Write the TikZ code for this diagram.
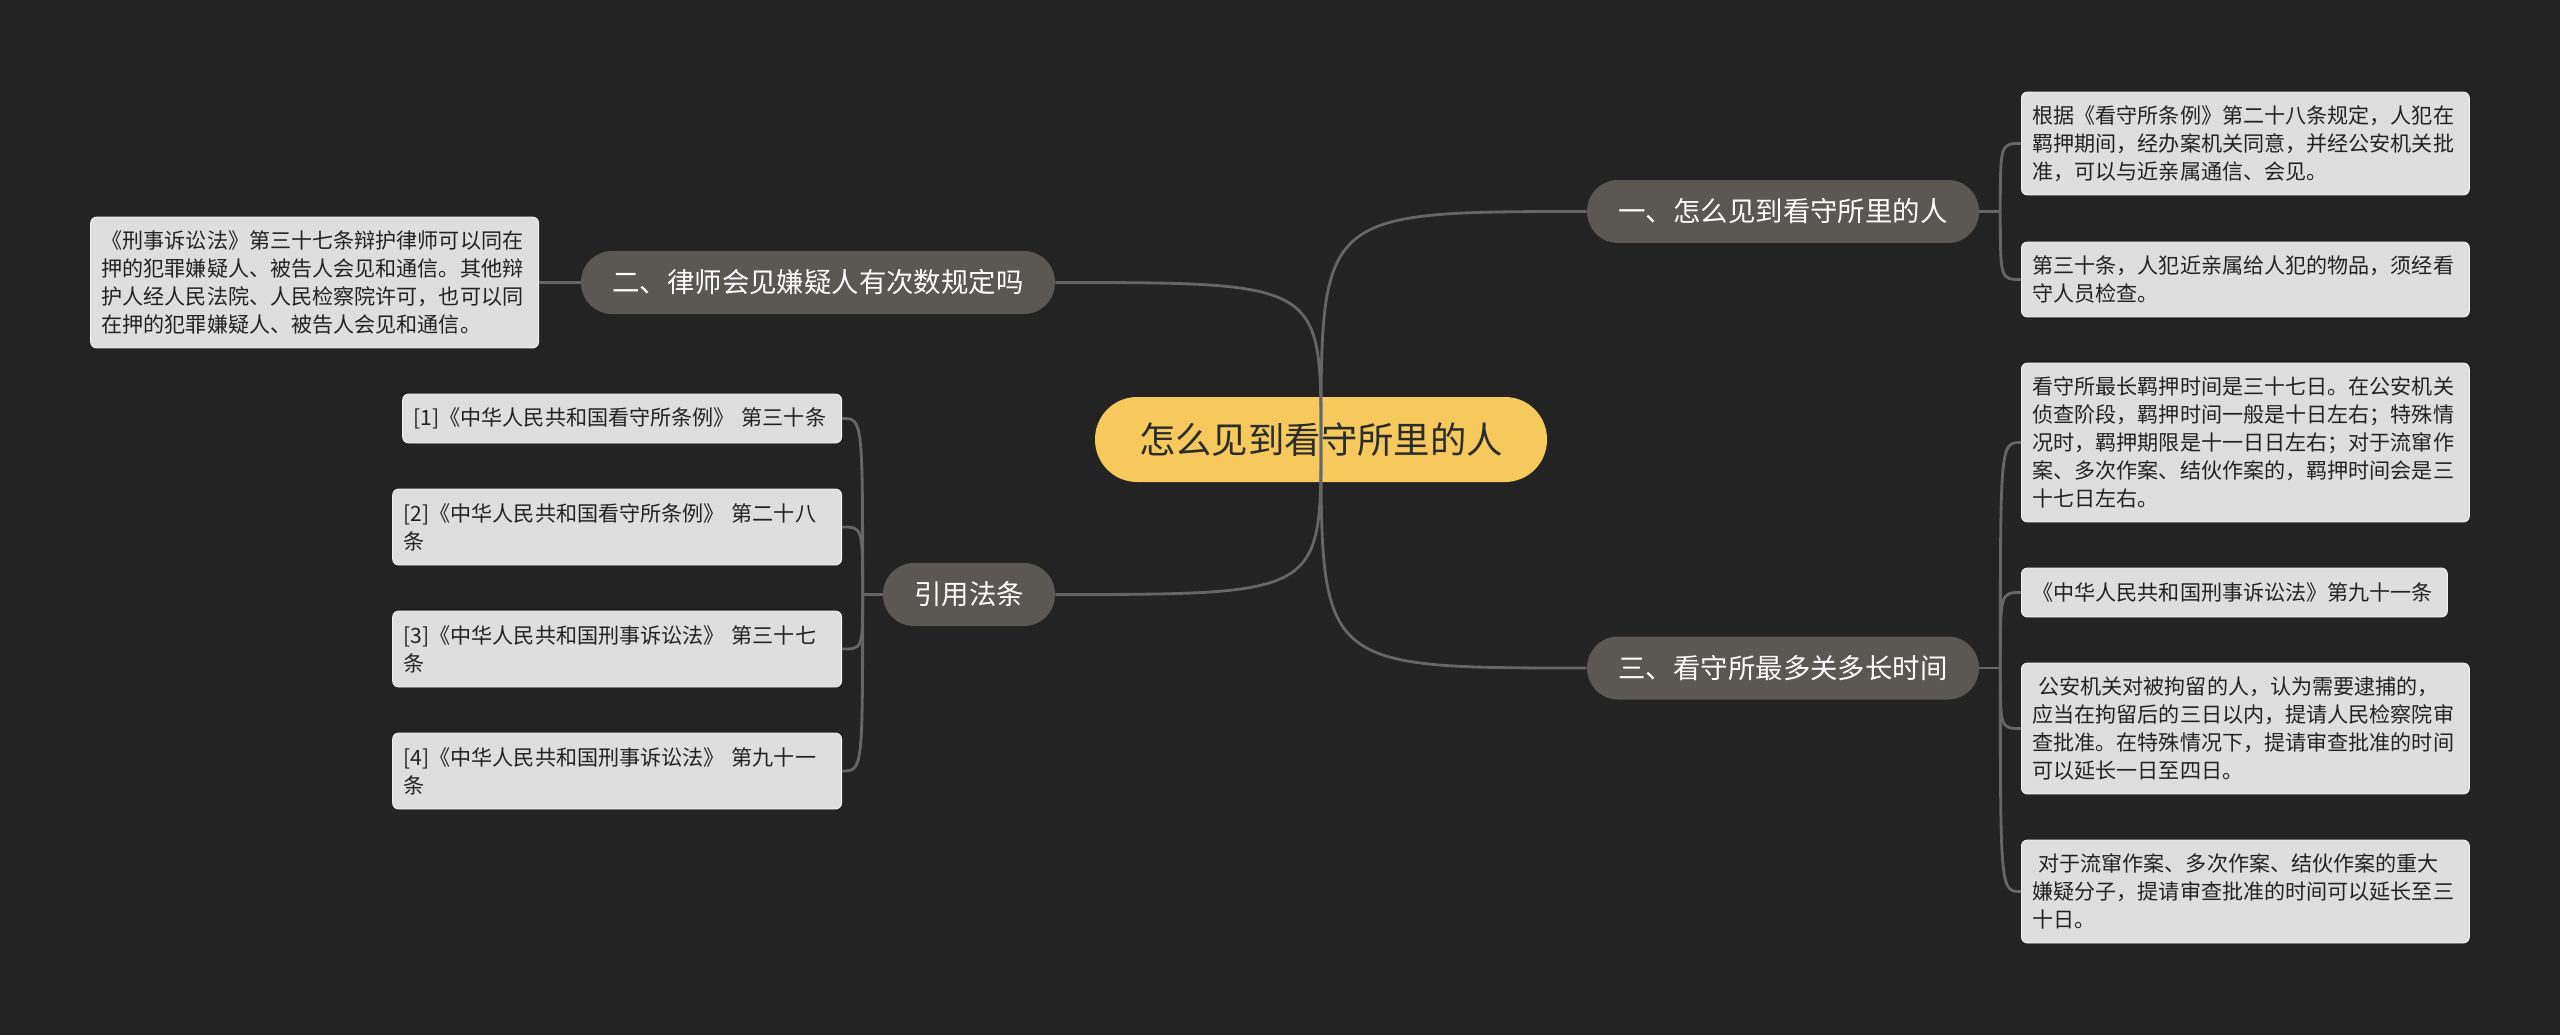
\documentclass[tikz,border=0pt]{standalone}
\usepackage{fontspec}
\setmainfont{Noto Sans CJK SC}
\definecolor{bgcol}{HTML}{232323}
\definecolor{rootfill}{HTML}{F5C95C}
\definecolor{roottext}{HTML}{2B2B2B}
\definecolor{topicfill}{HTML}{5B5753}
\definecolor{leaffill}{HTML}{DEDEDE}
\definecolor{leafedge}{HTML}{F2F2F2}
\definecolor{leaftext}{HTML}{222222}
\definecolor{linecol}{HTML}{666666}

\begin{document}
\begin{tikzpicture}[x=0.02cm,y=-0.02cm,
  root/.style={fill=rootfill,text=roottext,rounded corners=0.84cm,minimum width=9.04cm,minimum height=1.7cm,font=\fontsize{20.7}{24}\selectfont},
  topic/.style={fill=topicfill,text=white,rounded corners=0.62cm,minimum height=1.26cm,font=\fontsize{15.6}{18}\selectfont},
  leaf/.style={fill=leaffill,draw=leafedge,line width=0.5pt,text=leaftext,rounded corners=0.12cm,align=left,inner xsep=0.22cm,inner ysep=0pt,font=\fontsize{12}{15.9}\selectfont},
  link/.style={draw=linecol,line width=1.6pt}]
  \fill[bgcol] (0,0) rectangle (2560,1035); %Draw background
  % centre and first level
  \node[root] (root) at (1321,439.5) {怎么见到看守所里的人};
  \node[topic,minimum width=7.84cm] (q1) at (1783,211.5) {一、怎么见到看守所里的人};
  \node[topic,minimum width=9.48cm] (q2) at (818,282.5) {二、律师会见嫌疑人有次数规定吗};
  \node[topic,minimum width=7.84cm] (q3) at (1783,668) {三、看守所最多关多长时间};
  \node[topic,minimum width=3.44cm] (refs) at (969,594.5) {引用法条};
  % leaves of q1
  \node[leaf,anchor=west,text width=8.52cm,minimum height=2.06cm] (q1a) at (2021,143.5)
    {根据《看守所条例》第二十八条规定，人犯在\\羁押期间，经办案机关同意，并经公安机关批\\准，可以与近亲属通信、会见。};
  \node[leaf,anchor=west,text width=8.52cm,minimum height=1.5cm] (q1b) at (2021,279.5)
    {第三十条，人犯近亲属给人犯的物品，须经看\\守人员检查。};
  % leaf of q2
  \node[leaf,anchor=east,text width=8.52cm,minimum height=2.62cm] (q2a) at (539,282.5)
    {《刑事诉讼法》第三十七条辩护律师可以同在\\押的犯罪嫌疑人、被告人会见和通信。其他辩\\护人经人民法院、人民检察院许可，也可以同\\在押的犯罪嫌疑人、被告人会见和通信。};
  % leaves of q3
  \node[leaf,anchor=west,text width=8.52cm,minimum height=3.18cm] (q3a) at (2021,442.5)
    {看守所最长羁押时间是三十七日。在公安机关\\侦查阶段，羁押时间一般是十日左右；特殊情\\况时，羁押期限是十一日日左右；对于流窜作\\案、多次作案、结伙作案的，羁押时间会是三\\十七日左右。};
  \node[leaf,anchor=west,text width=8.08cm,minimum height=0.98cm] (q3b) at (2021,592.5)
    {《中华人民共和国刑事诉讼法》第九十一条};
  \node[leaf,anchor=west,text width=8.52cm,minimum height=2.62cm] (q3c) at (2021,728.5)
    {\hspace*{0.28em}公安机关对被拘留的人，认为需要逮捕的，\\应当在拘留后的三日以内，提请人民检察院审\\查批准。在特殊情况下，提请审查批准的时间\\可以延长一日至四日。};
  \node[leaf,anchor=west,text width=8.52cm,minimum height=2.06cm] (q3d) at (2021,891.5)
    {\hspace*{0.28em}对于流窜作案、多次作案、结伙作案的重大\\嫌疑分子，提请审查批准的时间可以延长至三\\十日。};
  % leaves of refs
  \node[leaf,anchor=east,text width=8.34cm,minimum height=0.98cm] (ref1) at (842,418.5)
    {[1]《中华人民共和国看守所条例》 第三十条};
  \node[leaf,anchor=east,text width=8.54cm,minimum height=1.52cm] (ref2) at (842,527)
    {[2]《中华人民共和国看守所条例》 第二十八\\条};
  \node[leaf,anchor=east,text width=8.54cm,minimum height=1.52cm] (ref3) at (842,649)
    {[3]《中华人民共和国刑事诉讼法》 第三十七\\条};
  \node[leaf,anchor=east,text width=8.54cm,minimum height=1.52cm] (ref4) at (842,771)
    {[4]《中华人民共和国刑事诉讼法》 第九十一\\条};
  % connectors from the centre
  \draw[link] (root.center) .. controls (root.center |- q1.west) and (root.center |- q1.west) .. (q1.west);
  \draw[link] (root.center) .. controls (root.center |- q2.east) and (root.center |- q2.east) .. (q2.east);
  \draw[link] (root.center) .. controls (root.center |- q3.west) and (root.center |- q3.west) .. (q3.west);
  \draw[link] (root.center) .. controls (root.center |- refs.east) and (root.center |- refs.east) .. (refs.east);
  % connectors to the leaves
  \coordinate (q1s) at ([xshift=0.42cm]q1.east);
  \coordinate (q3s) at ([xshift=0.42cm]q3.east);
  \coordinate (refss) at ([xshift=-0.4cm]refs.west);
  \draw[link] (q1.east) -- (q1s);
  \draw[link] (q3.east) -- (q3s);
  \draw[link] (refs.west) -- (refss);
  \draw[link] (q2.west) -- (q2a.east);
  \foreach \leafname in {q1a,q1b}
    \draw[link] (q1s) .. controls (q1s |- \leafname.west) and (q1s |- \leafname.west) .. (\leafname.west);
  \foreach \leafname in {q3a,q3b,q3c,q3d}
    \draw[link] (q3s) .. controls (q3s |- \leafname.west) and (q3s |- \leafname.west) .. (\leafname.west);
  \foreach \leafname in {ref1,ref2,ref3,ref4}
    \draw[link] (refss) .. controls (refss |- \leafname.east) and (refss |- \leafname.east) .. (\leafname.east);
\end{tikzpicture}
\end{document}
